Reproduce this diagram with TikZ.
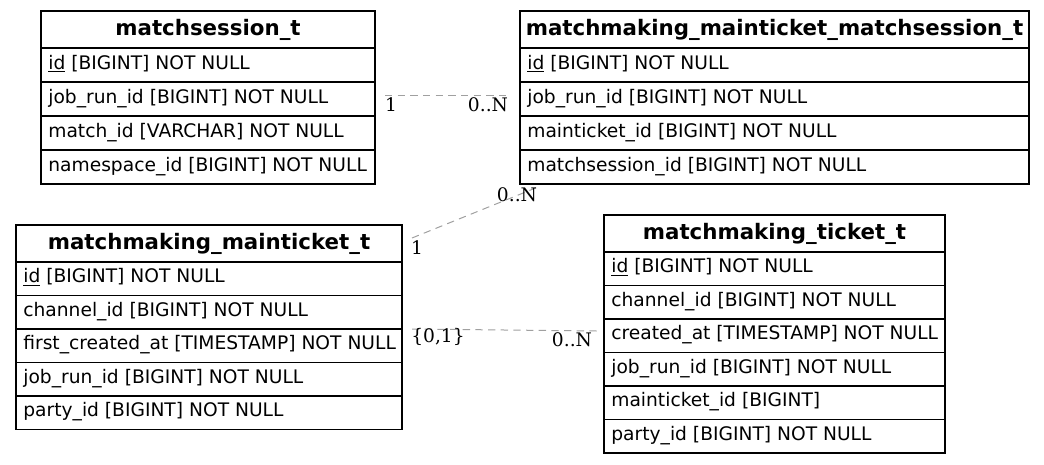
\documentclass[tikz,border=0pt]{standalone}
\usepackage{fontspec}
\setmainfont{DejaVu Sans}
\newfontfamily\cardFont{DejaVu Serif}
\usetikzlibrary{positioning}
\definecolor{relColor}{RGB}{160,160,160}
\newcommand{\pxu}{0.75pt}
\newcommand{\tableFont}{\fontsize{14}{17}\selectfont}
\newcommand{\headFont}{\fontsize{16}{19}\selectfont\bfseries}
\tikzstyle{erDiagram} = [x = \pxu, y = -\pxu]
\tikzstyle{tableHead} = [draw, line width = 1pt, anchor = north west, inner sep = 0pt, outer sep = 0pt, minimum height = 37 * \pxu, font = \headFont, text height = 12pt, text depth = 3.5pt]
\tikzstyle{tableRow} = [draw, line width = 1pt, inner xsep = 5.5pt, inner ysep = 0pt, outer sep = 0pt, font = \tableFont, text height = 10pt, text depth = 4pt]
\tikzstyle{relLine} = [color = relColor, line width = \pxu, dash pattern = on 5.5pt off 4pt]
\tikzstyle{cardText} = [font = \tableFont\cardFont, inner sep = 0pt]
\newcommand{\dbTable}[6]{
  \pgfmathsetlengthmacro{\rowTextWidth}{#3 * \pxu - 11pt}
  \node [tableHead, minimum width = #3 * \pxu] (#1-0) at #2 {#4};
  \foreach \field [count = \i, remember = \i as \j (initially 0)] in {#6} {
    \node [tableRow, minimum height = #5 * \pxu, below = 0pt of #1-\j] (#1-\i) {\makebox[\rowTextWidth][l]{\field}};
  }
}

\begin{document}
\begin{tikzpicture}[erDiagram]
  \useasboundingbox (0,0) rectangle (1044,464);

  \dbTable{ms}{(41,11)}{334}{matchsession\_t}{34}{
    {\underline{id} [BIGINT] NOT NULL},
    {job\_run\_id [BIGINT] NOT NULL},
    {match\_id [VARCHAR] NOT NULL},
    {namespace\_id [BIGINT] NOT NULL}}
  \dbTable{mms}{(520,11)}{509}{matchmaking\_mainticket\_matchsession\_t}{34}{
    {\underline{id} [BIGINT] NOT NULL},
    {job\_run\_id [BIGINT] NOT NULL},
    {mainticket\_id [BIGINT] NOT NULL},
    {matchsession\_id [BIGINT] NOT NULL}}
  \dbTable{mt}{(16,225)}{386}{matchmaking\_mainticket\_t}{33.5}{
    {\underline{id} [BIGINT] NOT NULL},
    {channel\_id [BIGINT] NOT NULL},
    {first\_created\_at [TIMESTAMP] NOT NULL},
    {job\_run\_id [BIGINT] NOT NULL},
    {party\_id [BIGINT] NOT NULL}}
  \dbTable{tk}{(604,215)}{341}{matchmaking\_ticket\_t}{33.5}{
    {\underline{id} [BIGINT] NOT NULL},
    {channel\_id [BIGINT] NOT NULL},
    {created\_at [TIMESTAMP] NOT NULL},
    {job\_run\_id [BIGINT] NOT NULL},
    {mainticket\_id [BIGINT]},
    {party\_id [BIGINT] NOT NULL}}

  % relations
  \draw [relLine] ([shift={(10,-4)}]ms-2.east) -- ([shift={(-13,-4)}]mms-2.west);
  \draw [relLine] ([shift={(10,-5.5)}]mt-0.east) -- ([shift={(18,3)}]mms-4.south west);
  \draw [relLine] ([shift={(10,0)}]mt-2.south east) -- ([shift={(-7,-4.75)}]tk-3.west);

  \node [cardText] (msOne) at (391,105) {1};
  \node [cardText] (mmsMany) at (488,105) {0..N};
  \node [cardText] (mtOne) at (417,248) {1};
  \node [cardText] (mmsManyB) at (517,195) {0..N};
  \node [cardText] (mtOpt) at (438,337) {\{0,1\}};
  \node [cardText] (tkMany) at (572,340) {0..N};
\end{tikzpicture}
\end{document}
